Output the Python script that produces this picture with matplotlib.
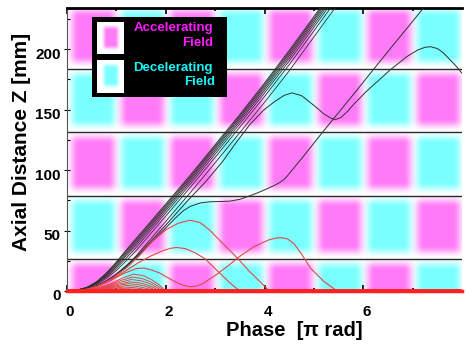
import numpy as np
import matplotlib
matplotlib.use("Agg")
import matplotlib.pyplot as plt
import matplotlib.transforms as mt

plt.rcParams['font.family'] = ['Liberation Sans', 'DejaVu Sans']
plt.rcParams['font.weight'] = 'bold'

# ---------------- data ----------------
X_MAX = 8
Z_MAX = 234
ROW_EDGES = [0, 26.25, 78.75, 131.25, 183.75, 236.25]   # cavity cell boundaries [mm]
GAP_LINES = [26.25, 78.75, 131.25, 183.75]              # horizontal black lines
PINK = (1.0, 0.48, 0.97)
CYAN = (0.48, 1.0, 1.0)

x_ticks = [0, 2, 4, 6]
x_minor = [1, 3, 5, 7]
y_ticks = [0, 50, 100, 150, 200]
y_minor = [25, 75, 125, 175, 225]

# accelerated bundle (common phase grid)
bundle_x = [0, 0.2, 0.4, 0.6, 0.8, 1.0, 1.2, 1.4, 1.6, 1.8, 2.0, 2.5, 3.0, 3.5, 4.0, 4.5, 5.0, 5.5]
bundle_1 = [0, 0.8, 3.0, 7.7, 15.0, 24.0, 34.0, 43.6, 53.0, 62.5, 72.0, 96.0, 121.0, 146.0, 172.0, 199.0, 227.0, 255.0]
bundle_2 = [0, 0.8, 2.9, 7.4, 14.5, 23.2, 33.0, 42.4, 51.8, 61.3, 70.8, 94.8, 119.8, 144.8, 170.7, 197.6, 225.6, 253.6]
bundle_3 = [0, 0.7, 2.8, 7.2, 13.9, 22.3, 31.8, 41.1, 50.5, 60.0, 69.5, 93.5, 118.5, 143.5, 169.3, 196.1, 224.1, 252.1]
bundle_4 = [0, 0.7, 2.7, 6.8, 13.2, 21.3, 30.5, 39.7, 49.1, 58.6, 68.1, 92.1, 117.0, 142.0, 167.7, 194.4, 222.4, 250.4]
bundle_5 = [0, 0.7, 2.5, 6.5, 12.5, 20.2, 29.1, 38.1, 47.5, 57.0, 66.5, 90.5, 115.3, 140.3, 165.9, 192.5, 220.5, 248.5]
bundle_6 = [0, 0.6, 2.4, 6.0, 11.6, 18.8, 27.2, 36.0, 45.5, 55.0, 64.5, 88.5, 113.2, 138.2, 163.7, 190.2, 218.2, 246.2]
bundle_7 = [0, 0.6, 2.2, 5.5, 10.5, 17.0, 24.9, 33.4, 42.9, 52.4, 61.9, 85.9, 110.5, 135.5, 160.8, 187.1, 215.1, 243.1]
bundle_8 = [0, 0.5, 1.8, 4.5, 8.5, 14.0, 21.0, 29.0, 38.5, 48.0, 57.5, 81.5, 106.0, 131.0, 156.0, 182.0, 210.0, 238.0]
bundle_lines = [bundle_1, bundle_2, bundle_3, bundle_4, bundle_5, bundle_6, bundle_7, bundle_8]

# black trajectory that oscillates before/after capture
trajA_x = [0, 0.3, 0.6, 0.9, 1.2, 1.5, 1.8, 2.1, 2.45, 2.8, 3.15, 3.44, 3.7, 3.98, 4.2, 4.4, 4.56,
           4.75, 5.0, 5.2, 5.35, 5.44, 5.55, 5.68, 5.81, 6.05, 6.28, 6.55, 6.89, 7.1, 7.25, 7.36, 7.5, 7.62,
           7.75, 7.88, 8.0]
trajA_z = [0, 0.5, 4.0, 10.8, 20.5, 32.5, 45.5, 59.0, 75.0, 90.0, 107.0, 123.5, 137.5, 149.5, 156.5, 161.8, 163.8,
           161.5, 153.5, 146.5, 142.8, 141.8, 143.5, 148.5, 154.5, 164.5, 173.0, 183.0, 194.0, 199.2, 201.5, 202.0,
           200.5, 197.0, 191.5, 186.0, 180.0]
# black trajectory with plateau, captured late
trajB_x = [0, 0.3, 0.6, 0.9, 1.2, 1.5, 1.68, 2.02, 2.2, 2.36, 2.5, 2.7, 2.9, 3.1, 3.3, 3.5, 3.64, 3.8,
           3.91, 4.05, 4.2, 4.3, 4.39, 4.47, 4.55, 4.64, 4.73, 5.2, 5.8, 6.4, 7.02, 7.3]
trajB_z = [0, 0.5, 3.8, 10.5, 20.0, 31.5, 39.0, 53.0, 60.5, 66.5, 70.0, 72.8, 73.8, 74.0, 74.3, 75.8, 77.8, 80.2,
           82.0, 84.5, 87.3, 89.5, 92.0, 95.5, 99.5, 104.0, 108.4, 132.5, 162.5, 193.0, 224.0, 238.0]

# reflected (red) trajectories
red1_x = [0, 0.3, 0.6, 0.9, 1.2, 1.45, 1.7, 2.0, 2.25, 2.49, 2.7, 2.9, 3.1, 3.3, 3.5, 3.7, 3.9, 4.1]
red1_z = [0, 0.5, 3.6, 10.0, 19.0, 28.5, 40.0, 50.5, 56.0, 58.5, 56.5, 50.0, 41.5, 33.5, 25.0, 16.0, 8.0, 0]
red2_x = [0, 0.3, 0.6, 0.9, 1.2, 1.45, 1.7, 1.95, 2.1, 2.22, 2.4, 2.6, 2.8, 3.0, 3.2, 3.35, 3.5]
red2_z = [0, 0.5, 3.5, 9.5, 17.0, 23.5, 29.0, 33.5, 35.3, 36.0, 35.0, 31.5, 26.5, 18.5, 10.5, 5.0, 0]
red3_x = [0, 0.3, 0.6, 0.9, 1.15, 1.4, 1.55, 1.68, 1.87, 2.05, 2.21, 2.35, 2.49, 2.62, 2.75, 3.04, 3.3,
          3.51, 3.8, 4.1, 4.25, 4.35, 4.47, 4.6, 4.75, 4.93, 5.2, 5.47]
red3_z = [0, 0.4, 3.4, 9.0, 14.5, 18.5, 19.0, 17.8, 15.0, 10.8, 7.2, 4.8, 3.5, 4.0, 6.0, 14.0, 22.0,
          29.0, 37.0, 42.5, 43.8, 44.1, 43.0, 39.0, 30.5, 19.0, 8.0, 0]
# small reflected arcs
arc1_x = [0, 0.34, 0.61, 0.88, 1.11, 1.35, 1.55, 1.71, 1.87, 2.0]
arc1_z = [0, 0.6, 2.4, 5.9, 10.5, 14.0, 12.6, 9.5, 5.0, 0]
arc2_x = [0, 0.33, 0.59, 0.86, 1.08, 1.32, 1.52, 1.68, 1.84, 1.97]
arc2_z = [0, 0.5, 2.0, 4.8, 8.6, 11.5, 10.3, 7.8, 4.1, 0]
arc3_x = [0, 0.33, 0.58, 0.85, 1.07, 1.30, 1.49, 1.65, 1.80, 1.93]
arc3_z = [0, 0.4, 1.6, 4.0, 7.1, 9.5, 8.5, 6.5, 3.4, 0]
arc4_x = [0, 0.32, 0.57, 0.83, 1.04, 1.27, 1.46, 1.61, 1.76, 1.88]
arc4_z = [0, 0.3, 1.3, 3.2, 5.6, 7.5, 6.8, 5.1, 2.7, 0]
arc5_x = [0, 0.31, 0.56, 0.81, 1.02, 1.24, 1.42, 1.57, 1.71, 1.83]
arc5_z = [0, 0.25, 1.0, 2.5, 4.5, 6.0, 5.4, 4.1, 2.2, 0]
arc6_x = [0, 0.30, 0.54, 0.78, 0.98, 1.20, 1.37, 1.51, 1.66, 1.77]
arc6_z = [0, 0.2, 0.8, 1.9, 3.4, 4.5, 4.1, 3.1, 1.6, 0]
arc7_x = [0, 0.29, 0.52, 0.75, 0.94, 1.15, 1.32, 1.45, 1.59, 1.70]
arc7_z = [0, 0.1, 0.5, 1.3, 2.4, 3.2, 2.9, 2.2, 1.2, 0]
arc8_x = [0, 0.28, 0.50, 0.72, 0.90, 1.10, 1.25, 1.38, 1.50, 1.60]
arc8_z = [0, 0.1, 0.3, 0.8, 1.5, 2.0, 1.8, 1.4, 0.7, 0]
arcs = [(arc1_x, arc1_z), (arc2_x, arc2_z), (arc3_x, arc3_z), (arc4_x, arc4_z),
        (arc5_x, arc5_z), (arc6_x, arc6_z), (arc7_x, arc7_z), (arc8_x, arc8_z)]

# ---------------- figure ----------------
W, H = 467, 345
fig = plt.figure(figsize=(W / 100, H / 100), dpi=100)
ax = fig.add_axes([67 / W, 1 - 291 / H, (462 - 67) / W, (291 - 8) / H])

# field-map background
nx, nz = 800, 470
xs = np.linspace(0, X_MAX, nx)
zs = np.linspace(0, Z_MAX, nz)
XX, ZZ = np.meshgrid(xs, zs)
img = np.ones((nz, nx, 3))


def ramp(d, s):
    t = np.clip(0.5 + d / s, 0, 1)
    return t * t * (3 - 2 * t)


for r in range(len(ROW_EDGES) - 1):
    zlo, zhi = ROW_EDGES[r], ROW_EDGES[r + 1]
    wz = ramp(ZZ - (zlo + 6.0), 11.0) if r > 0 else np.ones_like(ZZ)
    wz = wz * ramp((zhi - 4.0) - ZZ, 11.0)
    for c in range(X_MAX):
        col = PINK if (r + c) % 2 == 0 else CYAN
        wx = ramp(XX - (c + 0.10), 0.28) * ramp((c + 0.96) - XX, 0.28)
        w = wx * wz
        for k in range(3):
            img[..., k] -= w * (1 - col[k])
img = np.clip(img, 0, 1)
ax.imshow(img, extent=[0, X_MAX, 0, Z_MAX], origin='lower', aspect='auto', zorder=0,
          interpolation='bilinear')

ax.hlines(GAP_LINES, 0, X_MAX, color='#2a2a2a', lw=1.0, zorder=2)

for zl in bundle_lines:
    ax.plot(bundle_x, zl, color='#303030', lw=0.6, zorder=3)
ax.plot(trajA_x, trajA_z, color='#303030', lw=0.7, zorder=3)
ax.plot(trajB_x, trajB_z, color='#303030', lw=0.7, zorder=3)

red_col = '#e04848'
for ax_x, ax_z in arcs:
    ax.plot(ax_x, ax_z, color=red_col, lw=0.7, zorder=3)
ax.plot(red1_x, red1_z, color=red_col, lw=0.8, zorder=3)
ax.plot(red2_x, red2_z, color=red_col, lw=0.8, zorder=3)
ax.plot(red3_x, red3_z, color=red_col, lw=0.8, zorder=3)
ax.axhline(0, color='#ff2020', lw=2.8, zorder=4)

ax.set_xlim(0, X_MAX)
ax.set_ylim(0, Z_MAX)

ax.spines['right'].set_visible(False)
ax.spines['top'].set_linewidth(2.0)
ax.spines['top'].set_color('black')
ax.spines['left'].set_linewidth(0.8)
ax.spines['left'].set_color('#555555')
ax.spines['bottom'].set_color('#ff2020')
ax.spines['bottom'].set_linewidth(2.5)

ax.set_xticks(x_ticks)
ax.set_xticklabels([str(v) for v in x_ticks])
ax.set_xticks(x_minor, minor=True)
ax.set_yticks(y_ticks)
ax.set_yticklabels([str(v) for v in y_ticks])
ax.set_yticks(y_minor, minor=True)
ax.tick_params(axis='x', which='both', direction='in', top=True, bottom=True, color='black')
ax.tick_params(axis='x', which='major', length=4, width=1.2, pad=10, labelsize=11)
ax.tick_params(axis='x', which='minor', length=2.5, width=1.2)
ax.tick_params(axis='y', which='major', direction='inout', length=5, width=0.8, pad=2, labelsize=11)
ax.tick_params(axis='y', which='minor', direction='in', length=2.5, width=0.8)
for lab in ax.get_xticklabels() + ax.get_yticklabels():
    lab.set_fontweight('bold')
for lab in ax.get_xticklabels():
    lab.set_transform(lab.get_transform() + mt.ScaledTranslation(0.03, 0, fig.dpi_scale_trans))
for lab in ax.get_yticklabels():
    lab.set_transform(lab.get_transform() + mt.ScaledTranslation(0, -0.04, fig.dpi_scale_trans))

fig.text(22 / W, 1 - 141.5 / H, 'Axial Distance Z [mm]', rotation=90, ha='center', va='center',
         fontsize=15, fontweight='bold')
fig.text(294.5 / W, 1 - 330 / H, 'Phase  [π rad]', ha='center', va='center',
         fontsize=14.5, fontweight='bold')

# legend box
lg = plt.Rectangle((92 / W, 1 - 97 / H), (227 - 92) / W, (97 - 17) / H, transform=fig.transFigure,
                   facecolor='black', edgecolor='none', zorder=10)
fig.add_artist(lg)
gx = np.linspace(-1, 1, 60)
GX, GY = np.meshgrid(gx, gx)
gw = ramp(0.7 - np.abs(GX), 0.6) * ramp(0.78 - np.abs(GY), 0.5)
for (ytop, col) in [(21.7, PINK), (60.0, CYAN)]:
    sq = plt.Rectangle((97 / W, 1 - (ytop + 32.5) / H), 26.5 / W, 32.5 / H, transform=fig.transFigure,
                       facecolor='white', edgecolor='none', zorder=11)
    fig.add_artist(sq)
    iax = fig.add_axes([100.5 / W, 1 - (ytop + 29.5) / H, 19.5 / W, 26.5 / H], zorder=12)
    gimg = np.ones((60, 60, 3))
    for k in range(3):
        gimg[..., k] -= gw * (1 - col[k])
    iax.imshow(gimg, aspect='auto', interpolation='bilinear')
    iax.axis('off')

MAG = '#ff1aff'
CYN = '#1af5f5'
fig.text(213 / W, 1 - 28 / H, 'Accelerating', color=MAG, ha='right', va='center', fontsize=9.5,
         fontweight='bold', zorder=13)
fig.text(213 / W, 1 - 43.5 / H, 'Field', color=MAG, ha='right', va='center', fontsize=9.5,
         fontweight='bold', zorder=13)
fig.text(213 / W, 1 - 67.5 / H, 'Decelerating', color=CYN, ha='right', va='center', fontsize=9.5,
         fontweight='bold', zorder=13)
fig.text(215 / W, 1 - 82 / H, 'Field', color=CYN, ha='right', va='center', fontsize=9.5,
         fontweight='bold', zorder=13)

fig.savefig('out.png', dpi=100)
